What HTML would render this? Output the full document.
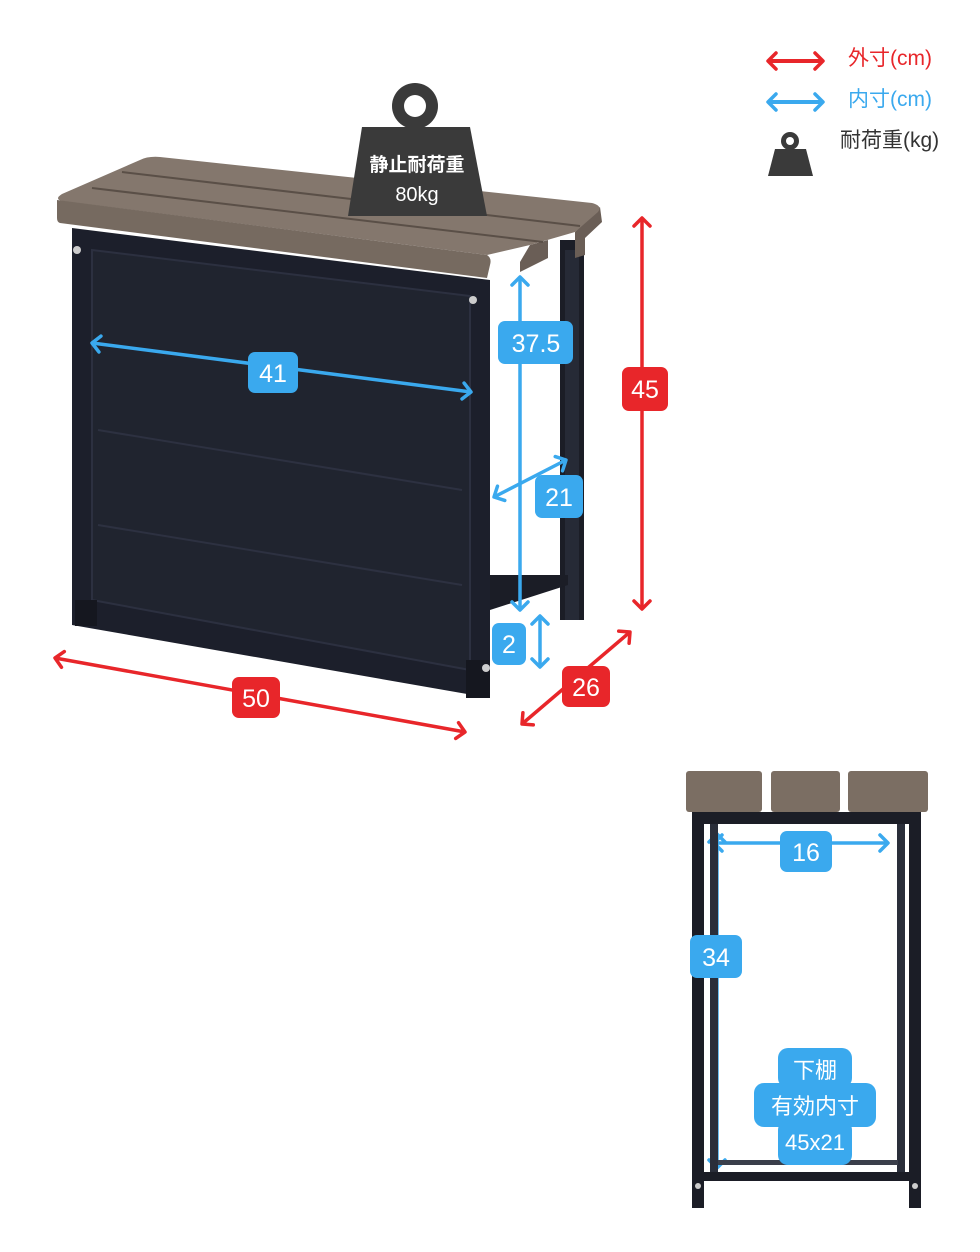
<!DOCTYPE html>
<html><head><meta charset="utf-8"><style>
html,body{margin:0;padding:0;background:#fff}
svg{display:block}
text{font-family:"Liberation Sans","Noto Sans CJK JP",sans-serif}
</style></head><body>
<svg width="980" height="1252" viewBox="0 0 980 1252" xmlns="http://www.w3.org/2000/svg">
<defs>
<marker id="rh" markerWidth="16" markerHeight="20" refX="10" refY="10" orient="auto-start-reverse" markerUnits="userSpaceOnUse"><path d="M2,2 L10,10 L2,18" fill="none" stroke="#e8262a" stroke-width="3.5" stroke-linecap="round" stroke-linejoin="round"/></marker>
<marker id="bh" markerWidth="16" markerHeight="20" refX="10" refY="10" orient="auto-start-reverse" markerUnits="userSpaceOnUse"><path d="M2,2 L10,10 L2,18" fill="none" stroke="#3aa9ee" stroke-width="3.5" stroke-linecap="round" stroke-linejoin="round"/></marker>
</defs>

<!-- main unit: right side frame -->
<rect x="560" y="240" width="24" height="380" fill="#1b1d26"/>
<rect x="565" y="250" width="14" height="370" fill="#262a36"/>
<polygon points="490,575 568,575 568,585 490,610" fill="#1b1d26"/>
<!-- body front -->
<polygon points="72,228 490,280 490,698 72,625" fill="#1c1f2b"/>
<polygon points="92,250 470,296 470,670 92,600" fill="#20242f" stroke="#2c3040" stroke-width="2"/>
<line x1="98" y1="430" x2="462" y2="490" stroke="#2d3141" stroke-width="2"/>
<line x1="98" y1="525" x2="462" y2="585" stroke="#2d3141" stroke-width="2"/>
<rect x="75" y="600" width="22" height="26" fill="#15171f"/>
<rect x="466" y="660" width="24" height="38" fill="#15171f"/>
<circle cx="77" cy="250" r="4" fill="#ccc"/><circle cx="473" cy="300" r="4" fill="#ccc"/><circle cx="486" cy="668" r="4" fill="#ccc"/>
<!-- tabletop -->
<!-- right end faces -->
<polygon points="575,232 600,207 602,222 585,238 585,255 575,258" fill="#6a5e56"/>
<polygon points="530,245 548,240 548,258 520,272 520,262" fill="#6a5e56"/>
<!-- surface -->
<path d="M62,194 L140,160 Q148,156 160,157 L592,203 Q603,206 598,212 L575,232 L530,245 L487,255 L62,201 Q54,199 62,194 Z" fill="#84776d"/>
<!-- front face -->
<path d="M57,200 L487,255 Q492,258 490,265 L487,278 L60,223 Q57,222 57,218 Z" fill="#766a60"/>
<line x1="92" y1="188" x2="543" y2="242" stroke="#5a4f47" stroke-width="2"/>
<line x1="122" y1="172" x2="580" y2="226" stroke="#5a4f47" stroke-width="2"/>

<!-- weight icon -->
<circle cx="415" cy="106" r="23" fill="#3a3a3a"/><circle cx="415" cy="106" r="11" fill="#fff"/>
<polygon points="362,127 470,127 487,216 348,216" fill="#3a3a3a"/>
<text x="417" y="171" font-size="19" fill="#fff" text-anchor="middle" font-weight="bold">静止耐荷重</text>
<text x="417" y="201" font-size="20" fill="#fff" text-anchor="middle">80kg</text>

<!-- red arrows -->
<g stroke="#e8262a" stroke-width="3.5" fill="none">
<line x1="642" y1="218" x2="642" y2="609" marker-start="url(#rh)" marker-end="url(#rh)"/>
<line x1="55" y1="658" x2="465" y2="732" marker-start="url(#rh)" marker-end="url(#rh)"/>
<line x1="522" y1="724" x2="630" y2="632" marker-start="url(#rh)" marker-end="url(#rh)"/>
</g>
<g fill="#e8262a">
<rect x="622" y="367" width="46" height="44" rx="7"/>
<rect x="232" y="677" width="48" height="41" rx="7"/>
<rect x="562" y="666" width="48" height="41" rx="7"/>
</g>
<g fill="#fff" font-size="25" text-anchor="middle">
<text x="645" y="398">45</text><text x="256" y="707">50</text><text x="586" y="696">26</text>
</g>

<!-- blue arrows -->
<g stroke="#3aa9ee" stroke-width="3.5" fill="none">
<line x1="92" y1="343" x2="471" y2="392" marker-start="url(#bh)" marker-end="url(#bh)"/>
<line x1="520" y1="277" x2="520" y2="610" marker-start="url(#bh)" marker-end="url(#bh)"/>
<line x1="494" y1="497" x2="566" y2="460" marker-start="url(#bh)" marker-end="url(#bh)"/>
<line x1="540" y1="616" x2="540" y2="667" marker-start="url(#bh)" marker-end="url(#bh)"/>
<line x1="714" y1="843" x2="888" y2="843" marker-start="url(#bh)" marker-end="url(#bh)"/>
<line x1="717" y1="834" x2="717" y2="1168" marker-start="url(#bh)" marker-end="url(#bh)"/>
</g>

<!-- side view -->
<rect x="692" y="810" width="12" height="398" fill="#1b1d26"/>
<rect x="909" y="810" width="12" height="398" fill="#1b1d26"/>
<rect x="710" y="820" width="8" height="360" fill="#2a2e3a"/>
<rect x="897" y="820" width="8" height="360" fill="#2a2e3a"/>
<rect x="692" y="812" width="229" height="12" fill="#1b1d26"/>
<rect x="704" y="1172" width="205" height="9" fill="#1b1d26"/>
<rect x="718" y="1160" width="180" height="5" fill="#3a3e4a"/>
<rect x="686" y="771" width="76" height="41" rx="3" fill="#7b6e63"/>
<rect x="771" y="771" width="69" height="41" rx="3" fill="#7b6e63"/>
<rect x="848" y="771" width="80" height="41" rx="3" fill="#7b6e63"/>
<circle cx="698" cy="1186" r="3" fill="#ccc"/><circle cx="915" cy="1186" r="3" fill="#ccc"/>

<g fill="#3aa9ee">
<rect x="248" y="352" width="50" height="41" rx="7"/>
<rect x="498" y="321" width="75" height="43" rx="7"/>
<rect x="535" y="475" width="48" height="43" rx="7"/>
<rect x="492" y="623" width="34" height="42" rx="7"/>
<rect x="780" y="831" width="52" height="41" rx="7"/>
<rect x="690" y="935" width="52" height="43" rx="7"/>
<rect x="778" y="1048" width="74" height="40" rx="10"/>
<rect x="754" y="1083" width="122" height="44" rx="10"/>
<rect x="778" y="1120" width="74" height="45" rx="10"/>
</g>
<g fill="#fff" font-size="25" text-anchor="middle">
<text x="273" y="382">41</text><text x="536" y="352">37.5</text><text x="559" y="506">21</text>
<text x="509" y="653">2</text><text x="806" y="861">16</text><text x="716" y="966">34</text>
<text x="815" y="1078" font-size="22">下棚</text>
<text x="815" y="1114" font-size="22">有効内寸</text>
<text x="815" y="1150" font-size="22">45x21</text>
</g>

<!-- legend -->
<line x1="768" y1="61" x2="823" y2="61" stroke="#e8262a" stroke-width="4" marker-start="url(#rh)" marker-end="url(#rh)"/>
<line x1="768" y1="102" x2="823" y2="102" stroke="#3aa9ee" stroke-width="4" marker-start="url(#bh)" marker-end="url(#bh)"/>
<text x="848" y="65" font-size="21" fill="#e8262a">外寸(cm)</text>
<text x="848" y="106" font-size="21" fill="#3aa9ee">内寸(cm)</text>
<circle cx="790" cy="141" r="9" fill="#3a3a3a"/><circle cx="790" cy="141" r="4" fill="#fff"/>
<polygon points="775,149 806,149 813,176 768,176" fill="#3a3a3a"/>
<text x="840" y="147" font-size="21" fill="#333">耐荷重(kg)</text>
</svg>
</body></html>
